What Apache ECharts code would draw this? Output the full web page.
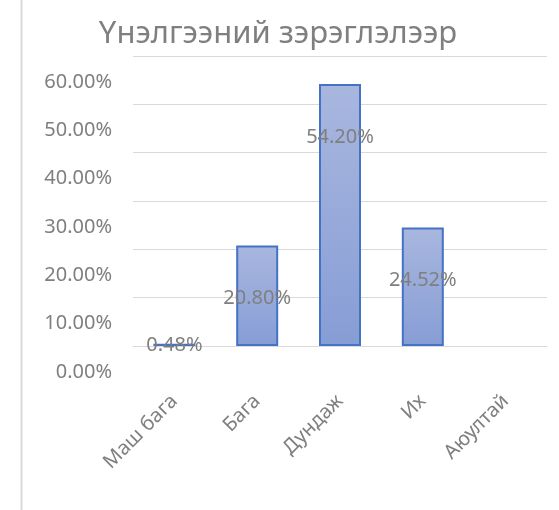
<!DOCTYPE html>
<html>
<head>
<meta charset="utf-8">
<script src="https://cdn.jsdelivr.net/npm/echarts@6/dist/echarts.min.js"></script>
<style>
  html, body { margin: 0; padding: 0; background: #fff; }
  #chart { width: 559px; height: 510px; }
</style>
</head>
<body>
<div id="chart"></div>
<script>
const title = "Үнэлгээний зэрэглэлээр";
const categories = ["Маш бага", "Бага", "Дундаж", "Их", "Аюултай"];
const values = [0.48, 20.80, 54.20, 24.52, null];
const yTicks = [0, 10, 20, 30, 40, 50, 60];

const textColor = "#7f7f7f";
const font = "Noto Sans";

const chart = echarts.init(document.getElementById("chart"));

const option = {
  animation: false,
  textStyle: {
    fontFamily: font,
  },
  title: {
    text: title,
    left: 273,
    top: 14,
    textAlign: "center",
    textStyle: {
      color: textColor,
      fontSize: 31,
      fontWeight: "normal",
      fontFamily: font,
    },
  },
  graphic: [
    {
      type: "line",
      shape: { x1: 21.5, y1: 0, x2: 21.5, y2: 510 },
      style: { stroke: "#d9d9d9", lineWidth: 2 },
    },
  ],
  grid: {
    left: 133,
    right: 12,
    top: 56,
    bottom: 164,
  },
  xAxis: {
    type: "category",
    data: categories,
    axisLine: {
      lineStyle: { color: "#d9d9d9", width: 1 },
    },
    axisTick: { show: false },
    axisLabel: {
      interval: 0,
      rotate: 45,
      margin: 52,
      color: textColor,
      fontSize: 20,
      fontFamily: font,
    },
  },
  yAxis: {
    type: "value",
    min: yTicks[0],
    max: yTicks[yTicks.length - 1],
    interval: yTicks[1] - yTicks[0],
    axisLine: { show: false },
    axisTick: { show: false },
    splitLine: {
      lineStyle: { color: "#d9d9d9", width: 1 },
    },
    axisLabel: {
      margin: 21,
      formatter: (v) => "{t|" + v.toFixed(2) + "%}",
      rich: {
        t: {
          color: textColor,
          fontSize: 20,
          fontFamily: font,
          padding: [52, 0, 0, 0],
        },
      },
    },
  },
  series: [
    {
      type: "bar",
      barWidth: 42,
      data: values.map((v) => ({
        value: v,
        label: { position: v !== null && v < 5 ? "inside" : "insideTop" },
      })),
      itemStyle: {
        borderColor: "#4472c4",
        borderWidth: 2,
        color: new echarts.graphic.LinearGradient(0, 0, 0, 1, [
          { offset: 0, color: "#a9b7df" },
          { offset: 1, color: "#869dd5" },
        ]),
      },
      label: {
        show: true,
        distance: 43,
        color: textColor,
        fontSize: 20,
        fontFamily: font,
        formatter: (p) => p.value.toFixed(2) + "%",
      },
    },
  ],
};

chart.setOption(option);
</script>
</body>
</html>
